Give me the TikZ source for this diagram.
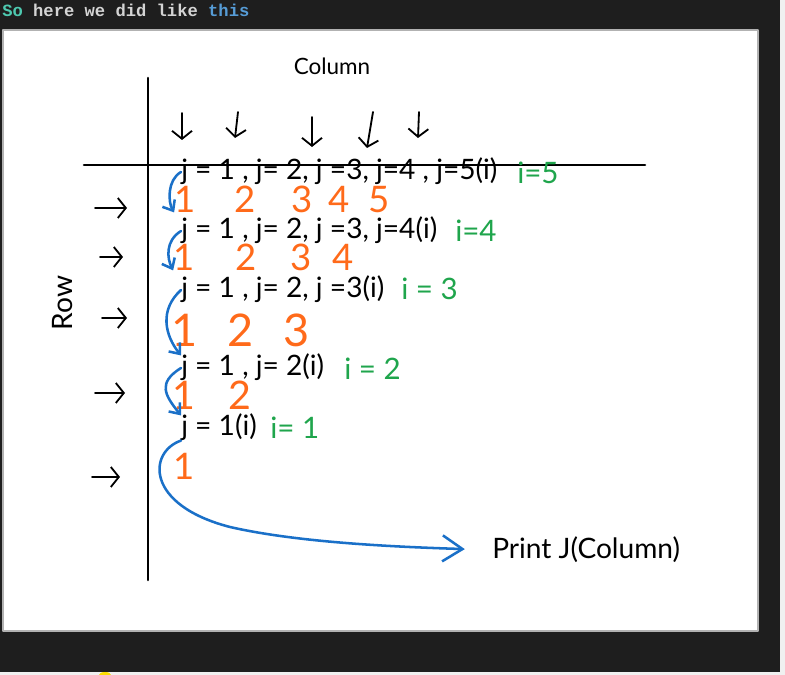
\documentclass[tikz,border=0pt]{standalone}
\usepackage{fontspec}
\setmainfont{Lato}
\newfontfamily\codefont{Liberation Mono}
\usetikzlibrary{arrows.meta}
\definecolor{codebg}{HTML}{1E1E1E}
\definecolor{codeteal}{HTML}{4EC9B0}
\definecolor{codegray}{HTML}{D4D4D4}
\definecolor{codeblue}{HTML}{569CD6}
\definecolor{inkblue}{HTML}{1A70C8}
\definecolor{inkorange}{HTML}{FF6A1A}
\definecolor{inkgreen}{HTML}{1FA54C}

\begin{document}
\begin{tikzpicture}[x=0.025cm,y=-0.025cm,line cap=round,line join=round,
  >={Straight Barb[length=2mm,width=5mm]},
  axis/.style={line width=1.8pt},
  pointer/.style={->,line width=1.3pt},
  label/.style={inner sep=0pt,font=\fontsize{20}{20}\selectfont},
  jrow/.style={anchor=west,inner sep=0pt,text height=14pt,text depth=3.5pt,font=\fontsize{20}{20}\selectfont},
  irow/.style={anchor=west,inner sep=0pt,text=inkgreen,font=\fontsize{21}{21}\selectfont},
  digit/.style={inner sep=0pt,text depth=0pt,text=inkorange},
  loopback/.style={->,inkblue,line width=1.8pt,>={Straight Barb[length=2.2mm,width=3.6mm]}}]
\useasboundingbox (0,0) rectangle (785,675);
% window frame
\fill[gray!12] (0,0) rectangle (785,675);
\fill[codebg] (0,0) rectangle (780,672);
\fill[yellow!80!orange] (105,675) ellipse (6 and 3);
\draw[gray!60,fill=white,line width=0.8pt] (3,30) rectangle (758,631);
\node[anchor=base west,inner sep=0pt,font=\codefont\bfseries\fontsize{12.2}{12.2}\selectfont] (title) at (2,17)
  {\textcolor{codeteal}{So} \textcolor{codegray}{here we did like} \textcolor{codeblue}{this}};
% axes
\draw[axis] (148,78) -- (148,580);
\draw[axis] (84,165) -- (645,165);
\node[label,font=\fontsize{16}{16}\selectfont] (colname) at (332,66) {Column};
\node[label,rotate=90] (rowname) at (63,303) {Row};
% column pointers
\draw[pointer] (182,113) -- (182,140);
\draw[pointer] (238,112) -- (235,138);
\draw[pointer] (312,117) -- (312,147);
\draw[pointer] (373,112) -- (367,148);
\draw[pointer] (419,112) -- (418,138);
% row pointers
\draw[pointer] (95,208) -- (127,208);
\draw[pointer] (100,257) -- (123,257);
\draw[pointer] (102,318) -- (127,318);
\draw[pointer] (95,393) -- (125,393);
\draw[pointer] (92,477) -- (120,477);
% inner loop runs
\node[jrow] (r1) at (181,172) {j = 1 , j= 2, j =3, j=4 , j=5(i)};
\node[irow] (i1) at (517,173) {i=5};
\node[digit,font=\fontsize{26}{26}\selectfont] (d11) at (185,199) {1};
\node[digit,font=\fontsize{26}{26}\selectfont] (d12) at (245,199) {2};
\node[digit,font=\fontsize{26}{26}\selectfont] (d13) at (302,199) {3};
\node[digit,font=\fontsize{26}{26}\selectfont] (d14) at (339,199) {4};
\node[digit,font=\fontsize{26}{26}\selectfont] (d15) at (379,199) {5};
\node[jrow] (r2) at (181,231) {j = 1 , j= 2, j =3, j=4(i)};
\node[irow] (i2) at (455,231) {i=4};
\node[digit,font=\fontsize{26}{26}\selectfont] (d21) at (184,257) {1};
\node[digit,font=\fontsize{26}{26}\selectfont] (d22) at (246,257) {2};
\node[digit,font=\fontsize{26}{26}\selectfont] (d23) at (301,257) {3};
\node[digit,font=\fontsize{26}{26}\selectfont] (d24) at (343,257) {4};
\node[jrow] (r3) at (181,290) {j = 1 , j= 2, j =3(i)};
\node[irow] (i3) at (401,289) {i = 3};
\node[digit,font=\fontsize{32}{32}\selectfont] (d31) at (185,330) {1};
\node[digit,font=\fontsize{32}{32}\selectfont] (d32) at (241,330) {2};
\node[digit,font=\fontsize{32}{32}\selectfont] (d33) at (297,330) {3};
\node[jrow] (r4) at (181,368) {j = 1 , j= 2(i)};
\node[irow] (i4) at (344,369) {i = 2};
\node[digit,font=\fontsize{28}{28}\selectfont] (d41) at (184,395) {1};
\node[digit,font=\fontsize{28}{28}\selectfont] (d42) at (240,395) {2};
\node[jrow] (r5) at (181,428) {j = 1(i)};
\node[irow] (i5) at (270,428) {i= 1};
\node[digit,font=\fontsize{26}{26}\selectfont] (d51) at (184,466) {1};
\node[label,anchor=west] (prt) at (492,550) {Print J(Column)};
% loop backs
\draw[loopback] (r1.west) .. controls +(-14,8) and +(-6,-10) .. (d11.south west);
\draw[loopback] (r2.west) .. controls +(-16,10) and +(-6,-12) .. (d21.south west);
\draw[loopback] (r3.west) .. controls +(-22,20) and +(-16,-20) .. (r4.north west);
\draw[loopback] (r4.west) .. controls +(-24,15) and +(-16,-20) .. (r5.north west);
\draw[loopback,>={Straight Barb[length=5mm,width=6.5mm]},shorten >=6.8mm] (r5.south west)
  .. controls (148,452) and (145,505) .. (230,527) .. controls (300,543) and (400,547) .. (prt.west);
\end{tikzpicture}
\end{document}
